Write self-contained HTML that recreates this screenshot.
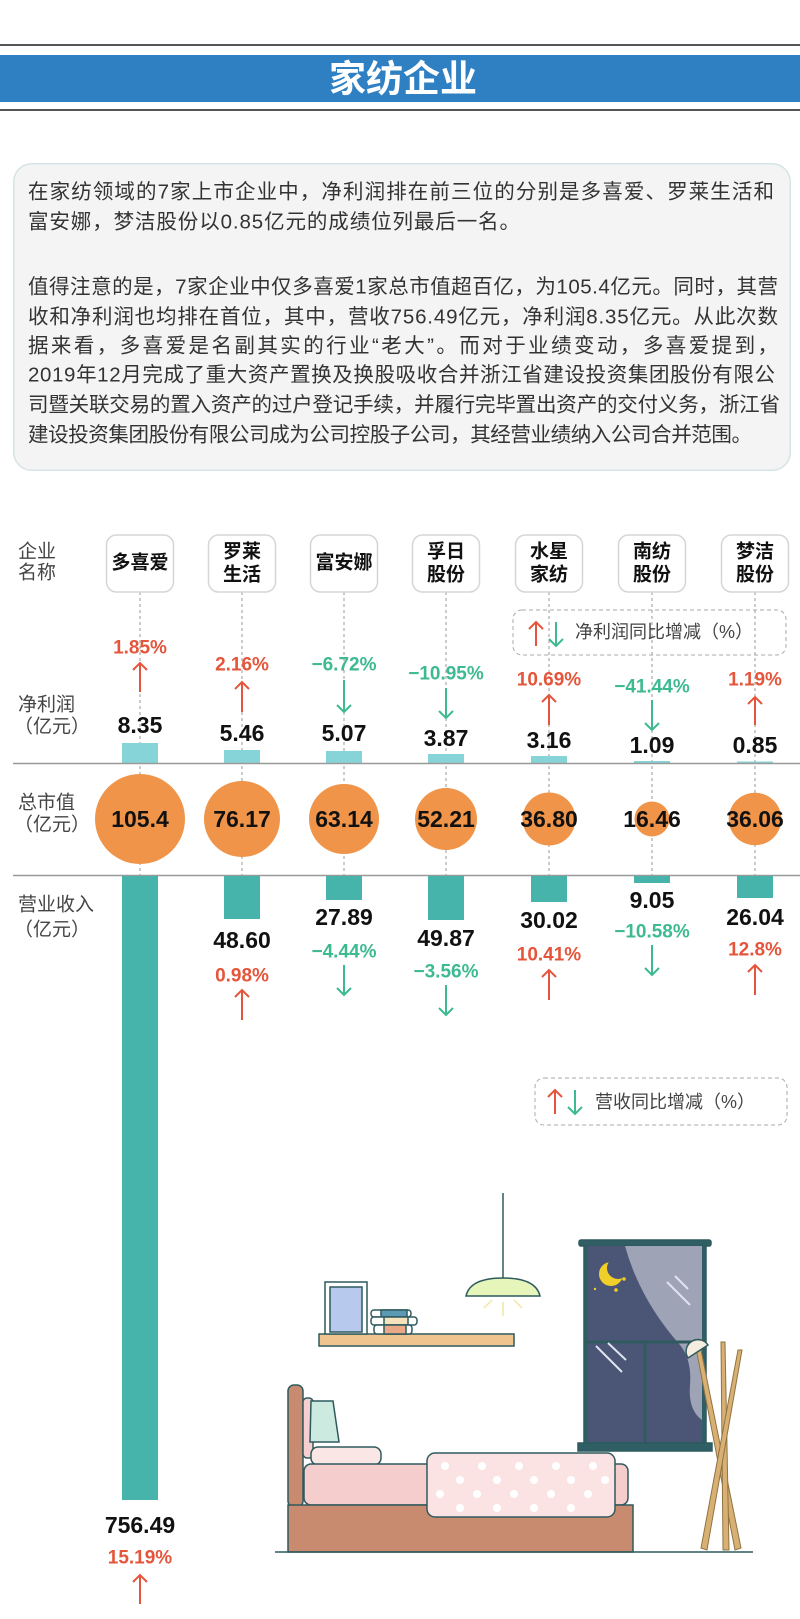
<!DOCTYPE html>
<html><head><meta charset="utf-8"><style>
html,body{margin:0;padding:0;background:#fff;}
body{width:800px;height:1619px;position:relative;overflow:hidden;font-family:"Liberation Sans","Noto Sans CJK SC",sans-serif;}
svg{position:absolute;left:0;top:0;}
</style></head><body>
<svg width="800" height="1619" viewBox="0 0 800 1619" xmlns="http://www.w3.org/2000/svg" font-family="Liberation Sans, Noto Sans CJK SC, sans-serif">
<line x1="0" y1="45" x2="800" y2="45" stroke="#555" stroke-width="2"/>
<rect x="0" y="55" width="800" height="47" fill="#2f80c2"/>
<line x1="0" y1="110" x2="800" y2="110" stroke="#555" stroke-width="2"/>
<text x="403" y="79" text-anchor="middle" dominant-baseline="central" font-size="37" font-weight="bold" fill="#fff">家纺企业</text>

<rect x="13.75" y="163.75" width="776.5" height="306.5" rx="18" fill="#f4f4f4" stroke="#d5e3e6" stroke-width="1.5"/>
<g font-size="20.5" fill="#333" dominant-baseline="central" lengthAdjust="spacing">
<text x="28" y="192" textLength="746" lengthAdjust="spacing">在家纺领域的7家上市企业中，净利润排在前三位的分别是多喜爱、罗莱生活和</text>
<text x="28" y="222" textLength="492" lengthAdjust="spacing">富安娜，梦洁股份以0.85亿元的成绩位列最后一名。</text>
<text x="28" y="287" textLength="750" lengthAdjust="spacing">值得注意的是，7家企业中仅多喜爱1家总市值超百亿，为105.4亿元。同时，其营</text>
<text x="28" y="317" textLength="750" lengthAdjust="spacing">收和净利润也均排在首位，其中，营收756.49亿元，净利润8.35亿元。从此次数</text>
<text x="28" y="346" textLength="750" lengthAdjust="spacing">据来看，多喜爱是名副其实的行业“老大”。而对于业绩变动，多喜爱提到，</text>
<text x="28" y="375" textLength="747" lengthAdjust="spacing">2019年12月完成了重大资产置换及换股吸收合并浙江省建设投资集团股份有限公</text>
<text x="28" y="405" textLength="752" lengthAdjust="spacing">司暨关联交易的置入资产的过户登记手续，并履行完毕置出资产的交付义务，浙江省</text>
<text x="28" y="435" textLength="724" lengthAdjust="spacing">建设投资集团股份有限公司成为公司控股子公司，其经营业绩纳入公司合并范围。</text>
</g>

<g stroke="#999" stroke-width="1" stroke-dasharray="3,3">
<line x1="140" y1="592" x2="140" y2="875"/><line x1="242" y1="592" x2="242" y2="875"/><line x1="344" y1="592" x2="344" y2="875"/><line x1="446" y1="592" x2="446" y2="875"/><line x1="549" y1="592" x2="549" y2="875"/><line x1="652" y1="592" x2="652" y2="875"/><line x1="755" y1="592" x2="755" y2="875"/>
</g>
<g font-size="19" fill="#444">
<text x="18" y="552" dominant-baseline="central">企业</text><text x="18" y="573" dominant-baseline="central">名称</text>
<text x="18" y="705" dominant-baseline="central">净利润</text><text x="14" y="727" dominant-baseline="central">（亿元）</text>
<text x="18" y="803" dominant-baseline="central">总市值</text><text x="14" y="825" dominant-baseline="central">（亿元）</text>
<text x="18" y="905" dominant-baseline="central">营业收入</text><text x="14" y="930" dominant-baseline="central">（亿元）</text>
</g>
<g fill="#fff" stroke="#d6d6d6" stroke-width="1.5">
<rect x="106.5" y="535" width="67" height="57" rx="10"/><rect x="208.5" y="535" width="67" height="57" rx="10"/><rect x="310.5" y="535" width="67" height="57" rx="10"/><rect x="412.5" y="535" width="67" height="57" rx="10"/><rect x="515.5" y="535" width="67" height="57" rx="10"/><rect x="618.5" y="535" width="67" height="57" rx="10"/><rect x="721.5" y="535" width="67" height="57" rx="10"/>
</g>
<g font-size="19" font-weight="bold" fill="#111" text-anchor="middle" dominant-baseline="central">
<text x="140" y="563">多喜爱</text>
<text x="242" y="552">罗莱</text><text x="242" y="575">生活</text>
<text x="344" y="563">富安娜</text>
<text x="446" y="552">孚日</text><text x="446" y="575">股份</text>
<text x="549" y="552">水星</text><text x="549" y="575">家纺</text>
<text x="652" y="552">南纺</text><text x="652" y="575">股份</text>
<text x="755" y="552">梦洁</text><text x="755" y="575">股份</text>
</g>
<rect x="513" y="610" width="273" height="45" rx="9" fill="none" stroke="#aaa" stroke-dasharray="4,3"/>
<g stroke-width="2" fill="none">
<path d="M536 622V646M529 629L536 622L543 629" stroke="#e5553b"/>
<path d="M556 622V646M549 639L556 646L563 639" stroke="#3dba92"/>
</g>
<text x="575" y="632" font-size="18" fill="#444" dominant-baseline="central">净利润同比增减（%）</text>
<rect x="535" y="1078" width="252" height="47" rx="9" fill="none" stroke="#aaa" stroke-dasharray="4,3"/>
<g stroke-width="2" fill="none">
<path d="M555 1090V1114M548 1097L555 1090L562 1097" stroke="#e5553b"/>
<path d="M575 1090V1114M568 1107L575 1114L582 1107" stroke="#3dba92"/>
</g>
<text x="595" y="1102" font-size="18" fill="#444" dominant-baseline="central">营收同比增减（%）</text>

<g fill="#86d4d7">
<rect x="122" y="743" width="36" height="20"/><rect x="224" y="750" width="36" height="13"/><rect x="326" y="751" width="36" height="12"/><rect x="428" y="754" width="36" height="9"/><rect x="531" y="756" width="36" height="7"/><rect x="634" y="761" width="36" height="2"/><rect x="737" y="761.5" width="36" height="1.5"/>
</g>
<line x1="13" y1="763.5" x2="800" y2="763.5" stroke="#999" stroke-width="1.5"/>
<line x1="13" y1="875.5" x2="800" y2="875.5" stroke="#999" stroke-width="1.5"/>
<g font-size="23" font-weight="bold" fill="#111" text-anchor="middle" dominant-baseline="central">
<text x="140" y="725">8.35</text><text x="242" y="733">5.46</text><text x="344" y="733">5.07</text><text x="446" y="738">3.87</text><text x="549" y="740">3.16</text><text x="652" y="745">1.09</text><text x="755" y="745">0.85</text>
</g>
<g font-size="19" font-weight="bold" text-anchor="middle" dominant-baseline="central">
<text x="140" y="648" fill="#e5553b">1.85%</text>
<text x="242" y="665" fill="#e5553b">2.16%</text>
<text x="344" y="665" fill="#3dba92">−6.72%</text>
<text x="446" y="674" fill="#3dba92">−10.95%</text>
<text x="549" y="680" fill="#e5553b">10.69%</text>
<text x="652" y="687" fill="#3dba92">−41.44%</text>
<text x="755" y="680" fill="#e5553b">1.19%</text>
</g>
<g stroke-width="2" fill="none">
<path d="M140 663V692M133 670L140 663L147 670" stroke="#e5553b"/>
<path d="M242 682V712M235 689L242 682L249 689" stroke="#e5553b"/>
<path d="M344 680V712M337 705L344 712L351 705" stroke="#3dba92"/>
<path d="M446 688V718M439 711L446 718L453 711" stroke="#3dba92"/>
<path d="M549 695V725M542 702L549 695L556 702" stroke="#e5553b"/>
<path d="M652 700V730M645 723L652 730L659 723" stroke="#3dba92"/>
<path d="M755 697V725M748 704L755 697L762 704" stroke="#e5553b"/>
</g>
<g fill="#ef9448">
<circle cx="140" cy="819" r="45"/><circle cx="242" cy="819" r="38"/><circle cx="344" cy="819" r="35"/><circle cx="446" cy="819" r="31"/><circle cx="549" cy="819" r="26.5"/><circle cx="652" cy="819" r="17.5"/><circle cx="755" cy="819" r="26.3"/>
</g>
<g font-size="23" font-weight="bold" fill="#111" text-anchor="middle" dominant-baseline="central">
<text x="140" y="819">105.4</text><text x="242" y="819">76.17</text><text x="344" y="819">63.14</text><text x="446" y="819">52.21</text><text x="549" y="819">36.80</text><text x="652" y="819">16.46</text><text x="755" y="819">36.06</text>
</g>
<g fill="#47b4ab">
<rect x="122" y="876" width="36" height="624"/><rect x="224" y="876" width="36" height="43"/><rect x="326" y="876" width="36" height="24"/><rect x="428" y="876" width="36" height="44"/><rect x="531" y="876" width="36" height="26"/><rect x="634" y="876" width="36" height="7"/><rect x="737" y="876" width="36" height="22"/>
</g>
<g font-size="23" font-weight="bold" fill="#111" text-anchor="middle" dominant-baseline="central">
<text x="140" y="1525">756.49</text><text x="242" y="940">48.60</text><text x="344" y="917">27.89</text><text x="446" y="938">49.87</text><text x="549" y="920">30.02</text><text x="652" y="900">9.05</text><text x="755" y="917">26.04</text>
</g>
<g font-size="19" font-weight="bold" text-anchor="middle" dominant-baseline="central">
<text x="140" y="1558" fill="#e5553b">15.19%</text>
<text x="242" y="976" fill="#e5553b">0.98%</text>
<text x="344" y="952" fill="#3dba92">−4.44%</text>
<text x="446" y="972" fill="#3dba92">−3.56%</text>
<text x="549" y="955" fill="#e5553b">10.41%</text>
<text x="652" y="932" fill="#3dba92">−10.58%</text>
<text x="755" y="950" fill="#e5553b">12.8%</text>
</g>
<g stroke-width="2" fill="none">
<path d="M140 1575V1604M133 1582L140 1575L147 1582" stroke="#e5553b"/>
<path d="M242 990V1020M235 997L242 990L249 997" stroke="#e5553b"/>
<path d="M344 965V995M337 988L344 995L351 988" stroke="#3dba92"/>
<path d="M446 985V1015M439 1008L446 1015L453 1008" stroke="#3dba92"/>
<path d="M549 970V1000M542 977L549 970L556 977" stroke="#e5553b"/>
<path d="M652 945V975M645 968L652 975L659 968" stroke="#3dba92"/>
<path d="M755 965V995M748 972L755 965L762 972" stroke="#e5553b"/>
</g>

<g stroke="#2f5a5e" stroke-width="1.5">
<line x1="503" y1="1193" x2="503" y2="1280"/>
<path d="M466 1296 Q470 1278 503 1278 Q536 1278 540 1296 Z" fill="#e6f5b9"/>
<g stroke="#f1e6a0" stroke-width="1.5"><line x1="503" y1="1302" x2="503" y2="1316"/><line x1="492" y1="1300" x2="484" y2="1308"/><line x1="514" y1="1300" x2="522" y2="1308"/></g>
<rect x="319" y="1334" width="195" height="12" fill="#f0c48f"/>
<rect x="325" y="1282" width="42" height="52" fill="#fff"/>
<rect x="330" y="1287" width="32" height="45" fill="#b8c9ee"/>
<rect x="371" y="1310" width="40" height="7" rx="3" fill="#fff"/><rect x="381" y="1310" width="26" height="7" fill="#5b9ab5"/>
<rect x="371" y="1317" width="46" height="8" rx="3" fill="#fff"/><rect x="384" y="1317" width="24" height="8" fill="#f6e3bd"/>
<rect x="374" y="1325" width="38" height="9" rx="3" fill="#fff"/><rect x="384" y="1325" width="22" height="9" fill="#eaa887"/>
<rect x="579" y="1240" width="132" height="6" rx="2" fill="#2f5f64"/>
<rect x="584" y="1246" width="122" height="198" fill="#2f5f64"/>
<rect x="588" y="1246" width="114" height="196" fill="#4b5576" stroke="none"/>
<path d="M625 1246 H702 V1420 Q688 1410 690 1385 Q692 1360 680 1345 Q640 1300 625 1246Z" fill="#9ea4b6" stroke="none"/>
<line x1="586" y1="1342" x2="704" y2="1342" stroke-width="3"/>
<line x1="645" y1="1342" x2="645" y2="1444" stroke-width="3"/>
<rect x="578" y="1443" width="134" height="8" fill="#2f5f64"/>
<line x1="667" y1="1282" x2="690" y2="1305" stroke="#dfe3ef" stroke-width="2"/><line x1="675" y1="1276" x2="688" y2="1289" stroke="#dfe3ef" stroke-width="2"/>
<line x1="596" y1="1346" x2="622" y2="1372" stroke="#dfe3ef" stroke-width="2"/><line x1="608" y1="1343" x2="626" y2="1360" stroke="#dfe3ef" stroke-width="2"/>
<g stroke="#8f7340" stroke-width="1" fill="#d9b074">
<path d="M700 1345 L741 1548 L735 1550 L696 1348Z"/>
<path d="M725 1342 L729 1550 L723 1550 L721 1342Z"/>
<path d="M742 1350 L707 1550 L701 1548 L738 1350Z"/>
</g>
<path d="M688 1358 A10 10 0 0 1 708 1345 Z" fill="#f5ede0"/>
<rect x="288" y="1385" width="15" height="122" rx="6" fill="#c98b6f"/>
<rect x="303" y="1398" width="10" height="60" rx="4" fill="#f6d0d0"/>
<path d="M311 1401 H333 L339 1442 H310Z" fill="#cdeae0"/>
<rect x="311" y="1447" width="70" height="18" rx="7" fill="#fbe6e6"/>
<rect x="304" y="1464" width="324" height="41" rx="7" fill="#f5cdcc"/>
<rect x="288" y="1505" width="345" height="47" fill="#c98b6f"/>
<rect x="427" y="1453" width="188" height="64" rx="8" fill="#fbe3e4"/>
<line x1="275" y1="1552" x2="753" y2="1552"/>
</g>
<circle cx="611" cy="1274" r="12" fill="#f1cf2a"/>
<circle cx="618" cy="1268" r="11" fill="#4b5576"/>
<circle cx="624" cy="1279" r="1.8" fill="#f1cf2a"/><circle cx="616" cy="1290" r="1.8" fill="#f1cf2a"/><circle cx="595" cy="1289" r="1.2" fill="#f1cf2a"/>
<g fill="#fff">
<circle cx="445" cy="1466" r="4"/><circle cx="482" cy="1466" r="4"/><circle cx="519" cy="1466" r="4"/><circle cx="556" cy="1466" r="4"/><circle cx="593" cy="1466" r="4"/>
<circle cx="460" cy="1480" r="4"/><circle cx="497" cy="1480" r="4"/><circle cx="534" cy="1480" r="4"/><circle cx="571" cy="1480" r="4"/><circle cx="605" cy="1480" r="4"/>
<circle cx="440" cy="1494" r="4"/><circle cx="477" cy="1494" r="4"/><circle cx="514" cy="1494" r="4"/><circle cx="551" cy="1494" r="4"/><circle cx="588" cy="1494" r="4"/>
<circle cx="460" cy="1508" r="4"/><circle cx="497" cy="1508" r="4"/><circle cx="534" cy="1508" r="4"/><circle cx="571" cy="1508" r="4"/>
</g>
</svg>
</body></html>
